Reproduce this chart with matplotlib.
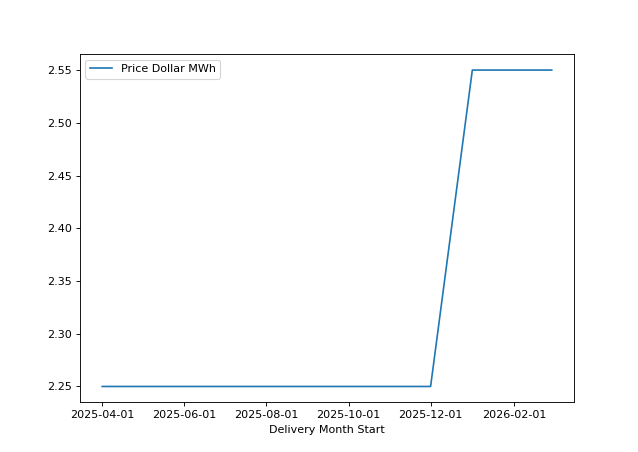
import pandas as pd
import matplotlib
matplotlib.use("Agg")
import matplotlib.pyplot as plt
import matplotlib.dates as mdates

# monthly delivery prices
months = ["2025-04-01", "2025-05-01", "2025-06-01", "2025-07-01", "2025-08-01",
          "2025-09-01", "2025-10-01", "2025-11-01", "2025-12-01", "2026-01-01",
          "2026-02-01", "2026-03-01"]
prices = [2.25, 2.25, 2.25, 2.25, 2.25, 2.25, 2.25, 2.25, 2.25, 2.55, 2.55, 2.55]

dates = pd.to_datetime(months)

fig, ax = plt.subplots(figsize=(7.975, 5.65), dpi=80)
ax.plot(dates, prices, label="Price Dollar MWh")

ax.xaxis.set_major_locator(mdates.MonthLocator(bymonth=[2, 4, 6, 8, 10, 12]))
ax.xaxis.set_major_formatter(mdates.DateFormatter("%Y-%m-%d"))
ax.set_xlabel("Delivery Month Start")
ax.legend(loc="upper left")

fig.savefig("out.png", dpi=80)
